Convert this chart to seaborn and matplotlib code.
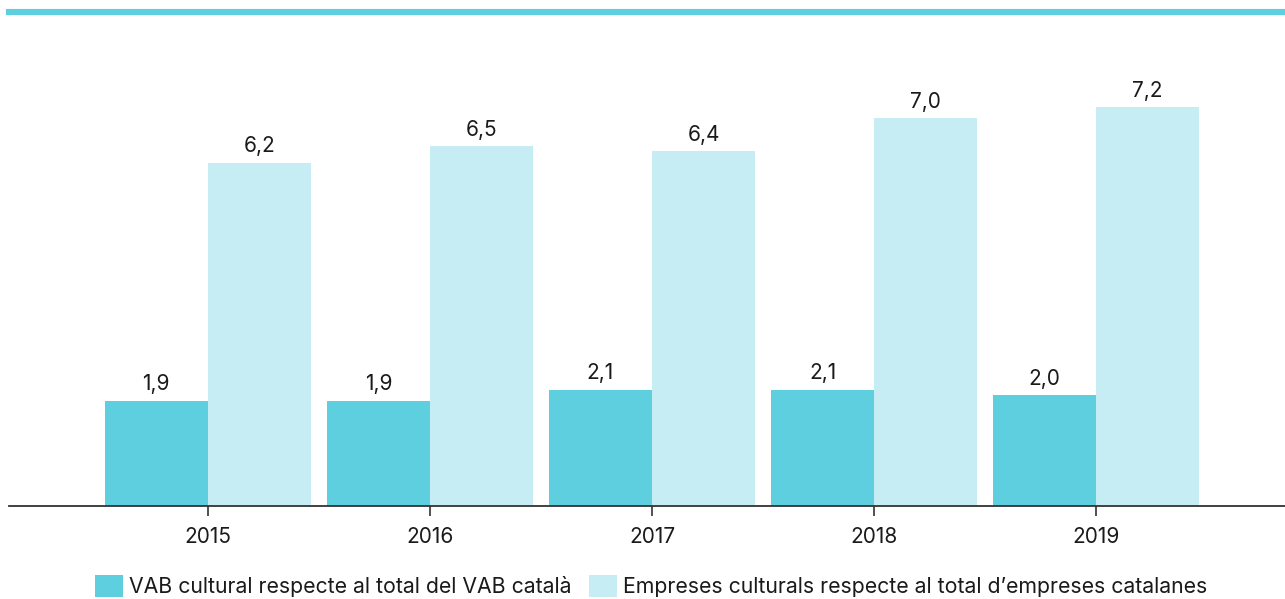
import matplotlib
matplotlib.use("Agg")
import matplotlib.pyplot as plt
from matplotlib.patches import Patch
import seaborn as sns
import pandas as pd

years = ["2015", "2016", "2017", "2018", "2019"]
vab_cultural = [1.9, 1.9, 2.1, 2.1, 2.0]
empreses_culturals = [6.2, 6.5, 6.4, 7.0, 7.2]
series_names = [
    "VAB cultural respecte al total del VAB català",
    "Empreses culturals respecte al total d\u2019empreses catalanes",
]

dark = "#5ECFDF"
light = "#C7EDF4"

df = pd.DataFrame({
    "any": years * 2,
    "valor": vab_cultural + empreses_culturals,
    "serie": [series_names[0]] * len(years) + [series_names[1]] * len(years),
})

sns.set_theme(style="white")
plt.rcParams["font.family"] = ["Inter", "DejaVu Sans"]

fig = plt.figure(figsize=(12.85, 5.99), dpi=100)
ax = fig.add_axes([9 / 1285, 1 - 506 / 599, 1276 / 1285, 494 / 599])

sns.barplot(data=df, x="any", y="valor", hue="serie", order=years,
            hue_order=series_names, palette=[dark, light], width=0.928,
            saturation=1, ax=ax, legend=False, edgecolor="none", linewidth=0)

for cont in ax.containers:
    ax.bar_label(cont, labels=[f"{b.get_height():.1f}".replace(".", ",") for b in cont],
                 padding=4.5, fontsize=15, color="#1a1a1a")

ax.set_xlim(-0.895, 4.85)
ax.set_ylim(0, 494 / 55.4)
ax.set_xlabel("")
ax.set_ylabel("")
ax.set_yticks([])

for side in ["left", "right"]:
    ax.spines[side].set_visible(False)
ax.spines["bottom"].set_color("#333333")
ax.spines["bottom"].set_linewidth(1.3)
ax.spines["top"].set_color(dark)
ax.spines["top"].set_linewidth(4.4)

ax.tick_params(axis="x", bottom=True, length=7, width=1.2, color="#333333",
               labelsize=15, labelcolor="#1a1a1a", pad=8)

handles = [Patch(facecolor=dark, edgecolor="none"), Patch(facecolor=light, edgecolor="none")]
fig.legend(handles, series_names, loc="center", bbox_to_anchor=(651 / 1285, 1 - 586 / 599),
           ncol=2, frameon=False, fontsize=15.3, handlelength=1.32, handleheight=1.22,
           handletextpad=0.28, columnspacing=0.85, borderaxespad=0, borderpad=0,
           labelcolor="#1a1a1a")

fig.savefig("out.png", dpi=100)
